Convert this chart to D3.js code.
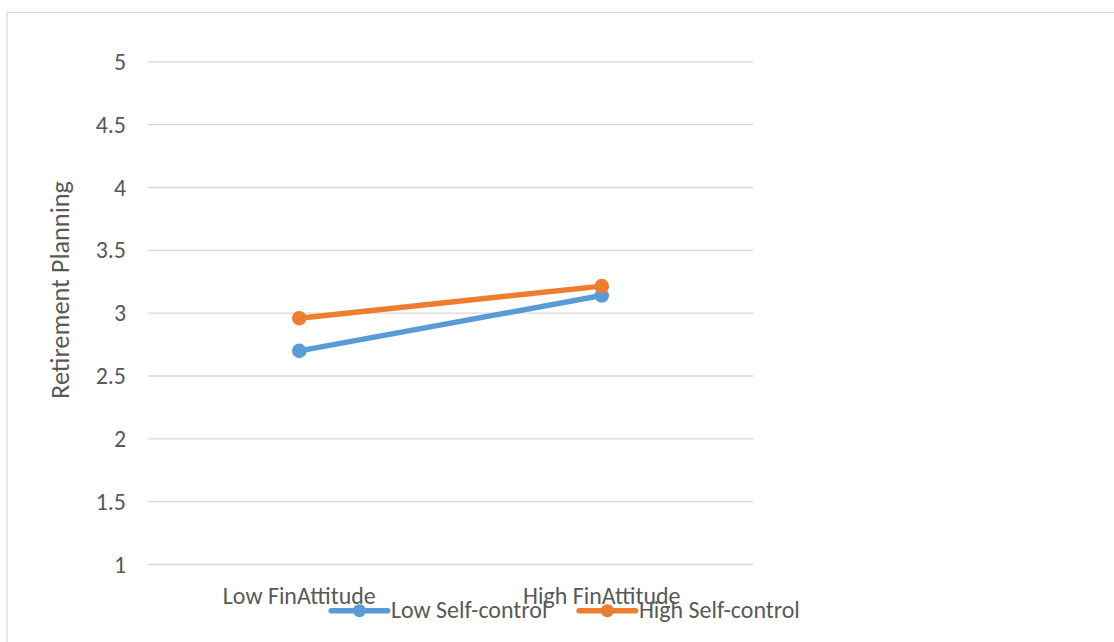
<!DOCTYPE html>
<html><head><meta charset="utf-8">
<script src="https://cdn.jsdelivr.net/npm/d3@7"></script>
<style>
html,body{margin:0;padding:0;background:#fff;}
svg{display:block;}
</style></head>
<body>
<svg id="chart" width="1114" height="642"></svg>
<script>
const categories = ["Low FinAttitude", "High FinAttitude"];
const seriesNames = ["Low Self-control", "High Self-control"];
const lowSelfControl = [2.70, 3.14];
const highSelfControl = [2.96, 3.215];
const yTicks = [1, 1.5, 2, 2.5, 3, 3.5, 4, 4.5, 5];
const seriesColors = ["#5B9BD5", "#ED7D31"];
const yTitle = "Retirement Planning";

const FAMILY = 'Carlito, Calibri, Lato, sans-serif';
// fit font size so the category label width matches the reference (~153px)
const cv = document.createElement("canvas").getContext("2d");
cv.font = "100px " + FAMILY;
const w100 = cv.measureText(categories[0]).width;
const FS = Math.max(14, Math.min(26, 100 * 153 / w100));
const wTitle100 = cv.measureText(yTitle).width;
const FS_TITLE = Math.max(14, Math.min(28, 100 * 218 / wTitle100));

const svg = d3.select("#chart");
const W = 1114, H = 642;
const plot = {left: 148, right: 753, top: 61.8, bottom: 564.5};

// chart border
svg.append("rect").attr("x", 7).attr("y", 12.5).attr("width", W + 20).attr("height", H + 20)
  .attr("fill", "none").attr("stroke", "#D9D9D9").attr("stroke-width", 1.3);

const x = d3.scaleBand().domain(categories).range([plot.left, plot.right]).paddingInner(0).paddingOuter(0);
const y = d3.scaleLinear().domain([1, 5]).range([plot.bottom, plot.top]);

// gridlines
svg.append("g").selectAll("line").data(yTicks).join("line")
  .attr("x1", plot.left).attr("x2", plot.right)
  .attr("y1", d => y(d)).attr("y2", d => y(d))
  .attr("stroke", "#D9D9D9").attr("stroke-width", 1.3);

// y axis labels
const yAxis = d3.axisLeft(y).tickValues(yTicks).tickSize(0).tickPadding(0).tickFormat(d => String(d));
const gy = svg.append("g").attr("transform", `translate(126,0)`).call(yAxis);
gy.select(".domain").remove();
gy.selectAll("text").attr("fill", "#595959").attr("font-family", FAMILY).attr("font-size", FS)
  .attr("dy", "0.32em").attr("x", 0);

// x axis labels
const xAxis = d3.axisBottom(x).tickSize(0).tickPadding(0);
const gx = svg.append("g").attr("transform", `translate(0,${plot.bottom})`).call(xAxis);
gx.select(".domain").remove();
gx.selectAll("text").attr("fill", "#595959").attr("font-family", FAMILY).attr("font-size", FS)
  .attr("dy", null).attr("y", 39);

// y title
svg.append("text").attr("transform", "translate(69,290) rotate(-90)")
  .attr("text-anchor", "middle").attr("fill", "#595959")
  .attr("font-family", FAMILY).attr("font-size", FS_TITLE).text(yTitle);

// series
const series = [lowSelfControl, highSelfControl];
const line = d3.line().x((d, i) => x(categories[i]) + x.bandwidth() / 2).y(d => y(d));
series.forEach((vals, si) => {
  const g = svg.append("g");
  g.append("path").datum(vals).attr("d", line).attr("fill", "none")
    .attr("stroke", seriesColors[si]).attr("stroke-width", 5.5).attr("stroke-linecap", "round");
  g.selectAll("circle").data(vals).join("circle")
    .attr("cx", (d, i) => x(categories[i]) + x.bandwidth() / 2)
    .attr("cy", d => y(d)).attr("r", 7.3).attr("fill", seriesColors[si]);
});

// legend
cv.font = FS + "px " + FAMILY;
const lineLen = 56.5, gapText = 3.3, gapItem = 31.7;
const widths = seriesNames.map(s => cv.measureText(s).width);
const total = widths.reduce((a, b) => a + b, 0) + 2 * (lineLen + gapText) + gapItem;
let lx = 565.5 - total / 2;
const ly = 610.7;
seriesNames.forEach((name, i) => {
  const g = svg.append("g");
  g.append("line").attr("x1", lx).attr("x2", lx + lineLen).attr("y1", ly).attr("y2", ly)
    .attr("stroke", seriesColors[i]).attr("stroke-width", 5.5).attr("stroke-linecap", "round");
  g.append("circle").attr("cx", lx + lineLen / 2).attr("cy", ly).attr("r", 6.5).attr("fill", seriesColors[i]);
  g.append("text").attr("x", lx + lineLen + gapText).attr("y", ly).attr("dy", "0.32em")
    .attr("fill", "#595959").attr("font-family", FAMILY).attr("font-size", FS).text(name);
  lx += lineLen + gapText + widths[i] + gapItem;
});
</script>
</body></html>
